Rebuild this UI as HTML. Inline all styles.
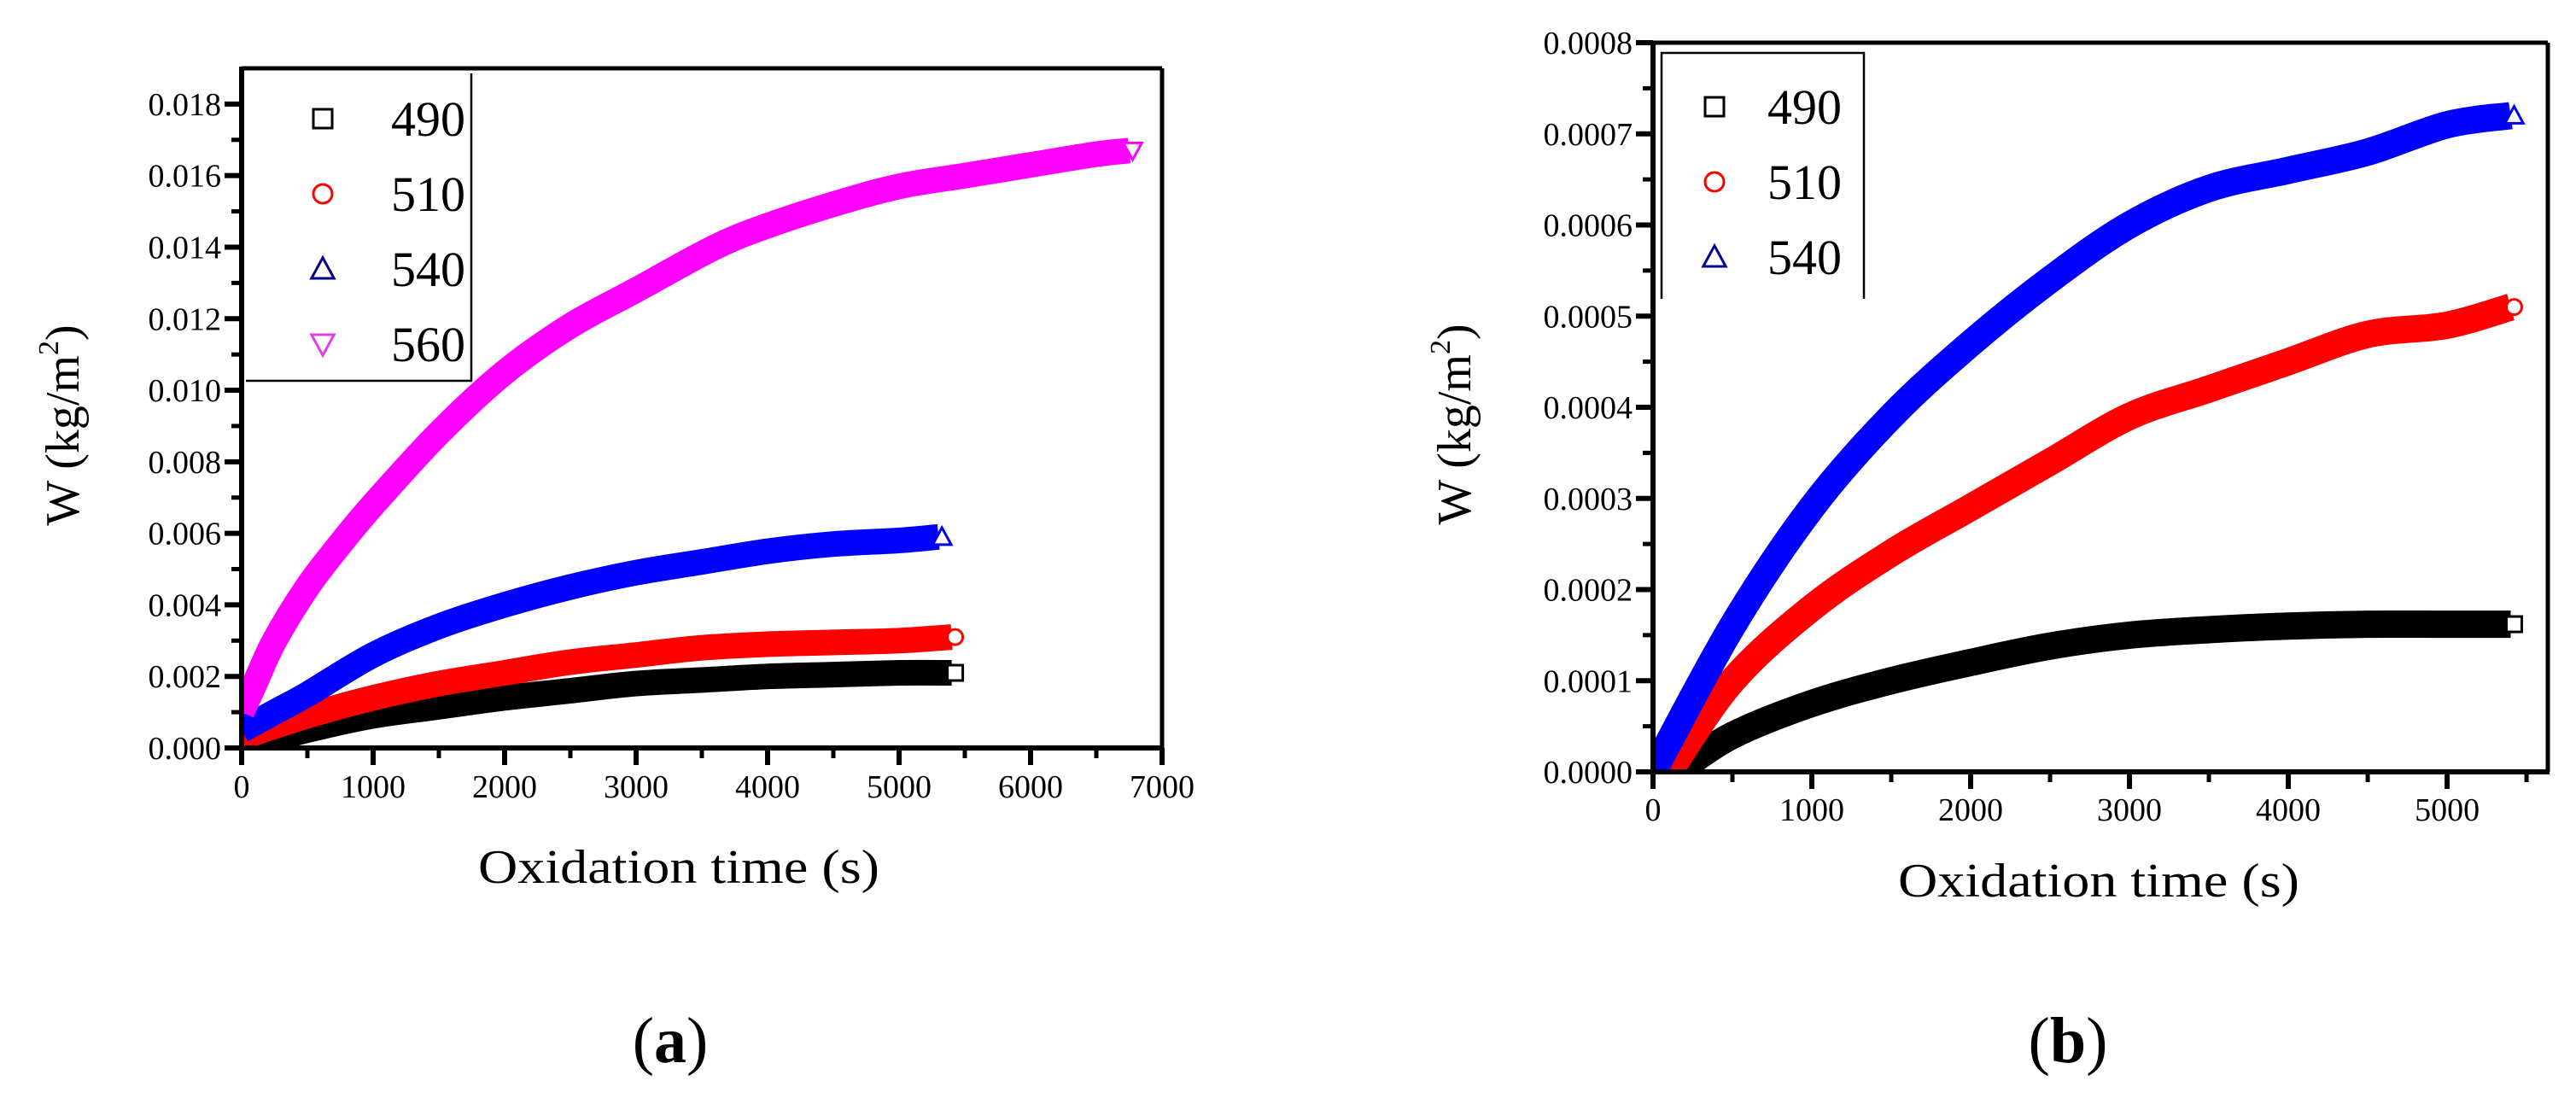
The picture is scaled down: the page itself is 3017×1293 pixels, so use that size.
<!DOCTYPE html>
<html><head><meta charset="utf-8"><style>
html,body{margin:0;padding:0;background:#fff;}
svg{display:block;font-family:"Liberation Serif",serif;}
</style></head><body>
<svg id="fig" width="3017" height="1293" viewBox="0 0 3017 1293"></svg>
<script>
// ---------- Chart (a) data ----------
const aTicksX = [0,1000,2000,3000,4000,5000,6000,7000];
const aTicksY = [0,0.002,0.004,0.006,0.008,0.010,0.012,0.014,0.016,0.018];
const aTickLabelsY = ["0.000","0.002","0.004","0.006","0.008","0.010","0.012","0.014","0.016","0.018"];
const aSeriesNames = ["490","510","540","560"];
const aX490 = [0,500,1000,1500,2000,2500,3000,3500,4000,4500,5000,5400];
const aY490 = [0,0.0005,0.0009,0.00115,0.0014,0.0016,0.0018,0.0019,0.0020,0.00205,0.0021,0.0021];
const aX510 = [0,500,1000,1500,2000,2500,3000,3500,4000,4500,5000,5400];
const aY510 = [0.0003,0.0009,0.0014,0.0018,0.0021,0.0024,0.0026,0.0028,0.0029,0.00295,0.0030,0.0031];
const aX540 = [0,250,500,1000,1500,2000,2500,3000,3500,4000,4500,5000,5300];
const aY540 = [0.0005,0.001,0.0015,0.0026,0.0034,0.0040,0.0045,0.0049,0.0052,0.0055,0.0057,0.0058,0.0059];
const aX560 = [0,100,250,500,750,1000,1500,2000,2500,3000,3600,4000,4500,5000,5500,6000,6500,6750];
const aY560 = [0.001,0.0018,0.003,0.0045,0.0057,0.0068,0.0088,0.0105,0.0118,0.0128,0.0140,0.0146,0.0152,0.0157,0.0160,0.0163,0.0166,0.0167];

// ---------- Chart (b) data ----------
const bTicksX = [0,1000,2000,3000,4000,5000];
const bTicksY = [0,0.0001,0.0002,0.0003,0.0004,0.0005,0.0006,0.0007,0.0008];
const bTickLabelsY = ["0.0000","0.0001","0.0002","0.0003","0.0004","0.0005","0.0006","0.0007","0.0008"];
const bSeriesNames = ["490","510","540"];
const bX490 = [150,500,1000,1500,2000,2500,3000,3500,4000,4500,5000,5400];
const bY490 = [0,0.00004,0.000075,0.0001,0.00012,0.000138,0.00015,0.000156,0.00016,0.000162,0.000162,0.000162];
const bX510 = [100,500,1000,1500,2000,2500,3000,3500,4000,4500,5000,5400];
const bY510 = [0,0.0001,0.00018,0.00024,0.00029,0.00034,0.00039,0.00042,0.00045,0.00048,0.00049,0.00051];
const bX540 = [0,500,1000,1500,2000,2500,3000,3500,4000,4500,5000,5400];
const bY540 = [0,0.00016,0.00029,0.00039,0.00047,0.00054,0.00060,0.00064,0.00066,0.00068,0.00071,0.00072];

const NS = "http://www.w3.org/2000/svg";
const svg = document.getElementById("fig");
function mk(tag, attrs, parent){
  const e = document.createElementNS(NS, tag);
  for (const k in attrs) e.setAttribute(k, attrs[k]);
  (parent||svg).appendChild(e);
  return e;
}
function marker(g, kind, cx, cy, color, s){
  let e;
  if (kind==="sq") e = mk("rect",{x:cx-s,y:cy-s,width:2*s,height:2*s,fill:"#fff",stroke:color,"stroke-width":3},g);
  else if (kind==="ci") e = mk("circle",{cx:cx,cy:cy,r:s,fill:"#fff",stroke:color,"stroke-width":3},g);
  else if (kind==="up") e = mk("polygon",{points:`${cx},${cy-s*1.2} ${cx-s*1.2},${cy+s} ${cx+s*1.2},${cy+s}`,fill:"#fff",stroke:color,"stroke-width":3},g);
  else e = mk("polygon",{points:`${cx},${cy+s*1.2} ${cx-s*1.2},${cy-s} ${cx+s*1.2},${cy-s}`,fill:"#fff",stroke:color,"stroke-width":3},g);
  return e;
}
function smoothPath(pts){
  let d = "M"+pts[0][0].toFixed(1)+","+pts[0][1].toFixed(1);
  for (let i=0;i<pts.length-1;i++){
    const p0 = pts[Math.max(0,i-1)], p1 = pts[i], p2 = pts[i+1], p3 = pts[Math.min(pts.length-1,i+2)];
    const c1x = p1[0]+(p2[0]-p0[0])/6, c1y = p1[1]+(p2[1]-p0[1])/6;
    const c2x = p2[0]-(p3[0]-p1[0])/6, c2y = p2[1]-(p3[1]-p1[1])/6;
    d += ` C${c1x.toFixed(1)},${c1y.toFixed(1)} ${c2x.toFixed(1)},${c2y.toFixed(1)} ${p2[0].toFixed(1)},${p2[1].toFixed(1)}`;
  }
  return d;
}

function drawChart(cfg){
  const {L,R,T,B,xmax,ymax,id} = cfg;
  const sx = v => L + v/xmax*(R-L);
  const sy = v => B - v/ymax*(B-T);
  const g = mk("g",{});
  
  
  const clip = mk("clipPath",{id:"clip-"+id},g);
  mk("rect",{x:L,y:T,width:R-L,height:B-T},clip);
  cfg.series.forEach(s=>{
    const pts = s.xs.map((x,i)=>[sx(x), sy(s.ys[i])]);
    const p = mk("path",{d:smoothPath(pts),fill:"none",stroke:s.color,"stroke-width":cfg.bw,"stroke-linecap":"butt","stroke-linejoin":"round","clip-path":`url(#clip-${id})`},g);
    
    
    const n = s.xs.length-1;
    const m = marker(g, s.kind, sx(s.xs[n])+4, sy(s.ys[n]), s.color, 9);
    
    
  });
  mk("line",{x1:L,y1:T,x2:R,y2:T,stroke:"#000","stroke-width":5},g);
  mk("line",{x1:R,y1:T,x2:R,y2:B,stroke:"#000","stroke-width":5},g);
  const ya = mk("line",{x1:L,y1:T-2,x2:L,y2:B+3,stroke:"#000","stroke-width":6},g);
  
  
  const xa = mk("line",{x1:L-3,y1:B,x2:R+2,y2:B,stroke:"#000","stroke-width":6},g);
  
  
  cfg.ticksY.forEach((v,i)=>{
    const y = sy(v);
    mk("line",{x1:L-20,y1:y,x2:L,y2:y,stroke:"#000","stroke-width":6},g);
    if (i<cfg.ticksY.length-1){
      const ym = sy(v+(cfg.ticksY[1]-cfg.ticksY[0])/2);
      mk("line",{x1:L-12,y1:ym,x2:L,y2:ym,stroke:"#000","stroke-width":5},g);
    }
    const t = mk("text",{x:L-24,y:y+13,"text-anchor":"end","font-size":cfg.tfs},g);
    t.textContent = cfg.labelsY[i];
    
    
  });
  const dx = cfg.ticksX[1]-cfg.ticksX[0];
  cfg.ticksX.forEach((v,i)=>{
    const x = sx(v);
    mk("line",{x1:x,y1:B,x2:x,y2:B+20,stroke:"#000","stroke-width":6},g);
    if (sx(v+dx/2) < R) mk("line",{x1:sx(v+dx/2),y1:B,x2:sx(v+dx/2),y2:B+12,stroke:"#000","stroke-width":5},g);
    const t = mk("text",{x:x,y:cfg.xly,"text-anchor":"middle","font-size":cfg.tfs},g);
    t.textContent = String(v);
    
    
  });
  const xt = mk("text",{x:cfg.xtx,y:cfg.xty,"text-anchor":"middle","font-size":56,textLength:470,lengthAdjust:"spacingAndGlyphs"},g);
  xt.textContent = "Oxidation time (s)";
  
  
  const yt = mk("text",{x:0,y:0,"text-anchor":"middle","font-size":56,transform:`translate(${cfg.ytx},${cfg.yty}) rotate(-90)`},g);
  yt.innerHTML = 'W (kg/m<tspan dy="-24" font-size="34">2</tspan><tspan dy="24">)</tspan>';
  
  
  const lg = mk("g",{},g);
  
  
  const lb = cfg.legend;
  mk("polyline",{points:lb.lines,fill:"none",stroke:"#000","stroke-width":2.5},lg);
  cfg.series.forEach((s,i)=>{
    const y = lb.y0 + i*lb.dy;
    const m = marker(lg, s.kind, lb.mx, y, s.legendColor||s.color, 11);
    
    
    const t = mk("text",{x:lb.tx,y:y+20,"font-size":58},lg);
    t.textContent = s.name;
    
    
  });
}

drawChart({
  id:"a", L:283, R:1361, T:80, B:876, xmax:7000, ymax:0.019, bw:30, tfs:38, xly:934,
  ticksX:aTicksX, ticksY:aTicksY, labelsY:aTickLabelsY,
  xtx:795, xty:1034, ytx:92, yty:498,
  series:[
    {name:aSeriesNames[0], xs:aX490, ys:aY490, color:"#000", kind:"sq"},
    {name:aSeriesNames[1], xs:aX510, ys:aY510, color:"#f00", kind:"ci"},
    {name:aSeriesNames[2], xs:aX540, ys:aY540, color:"#00f", kind:"up", legendColor:"#00008b"},
    {name:aSeriesNames[3], xs:aX560, ys:aY560, color:"#f0f", kind:"dn", legendColor:"#e040e0"}
  ],
  legend:{lines:"288,446 552,446 552,86", mx:378, tx:458, y0:139, dy:88}
});
drawChart({
  id:"b", L:1936, R:2984, T:50, B:904, xmax:5634, ymax:0.0008, bw:32, tfs:38, xly:961,
  ticksX:bTicksX, ticksY:bTicksY, labelsY:bTickLabelsY,
  xtx:2458, xty:1050, ytx:1722, yty:497,
  series:[
    {name:bSeriesNames[0], xs:bX490, ys:bY490, color:"#000", kind:"sq"},
    {name:bSeriesNames[1], xs:bX510, ys:bY510, color:"#f00", kind:"ci"},
    {name:bSeriesNames[2], xs:bX540, ys:bY540, color:"#00f", kind:"up", legendColor:"#00008b"}
  ],
  legend:{lines:"1946,350 1946,62 2183,62 2183,350", mx:2008, tx:2070, y0:125, dy:88}
});

const ca = mk("text",{x:785,y:1244,"text-anchor":"middle","font-size":76});
ca.innerHTML = '(<tspan font-weight="bold">a</tspan>)';


const cb = mk("text",{x:2422,y:1244,"text-anchor":"middle","font-size":76});
cb.innerHTML = '(<tspan font-weight="bold">b</tspan>)';


</script>
</body></html>
